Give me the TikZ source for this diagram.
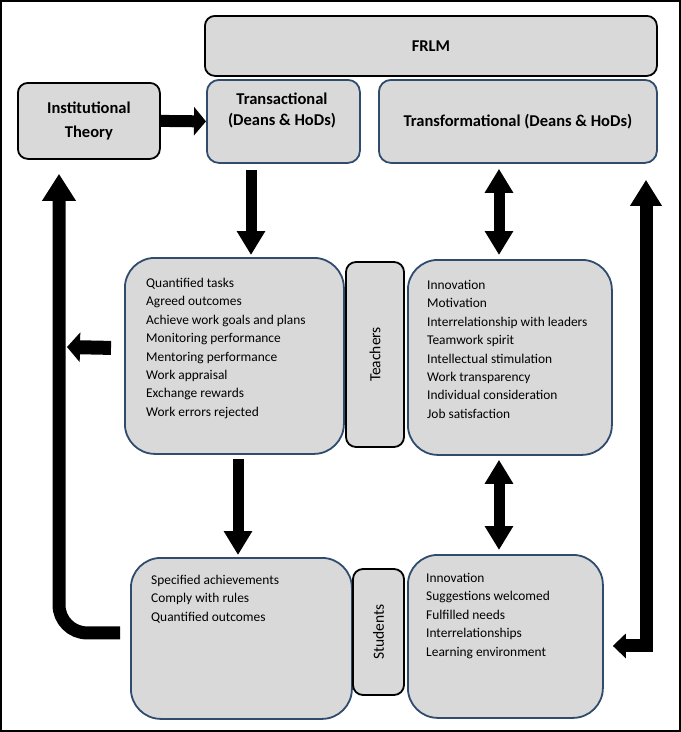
\documentclass[tikz,border=0pt]{standalone}
\usepackage{fontspec}
\setmainfont{Carlito}
\usetikzlibrary{arrows.meta,calc}
\definecolor{boxgray}{HTML}{D9D9D9}
\definecolor{boxblue}{HTML}{2F4B6E}
\begin{document}
\begin{tikzpicture}[x=1pt,y=-1pt,
  kbox/.style={draw=black, fill=boxgray, line width=1.8pt, rounded corners=10pt, inner sep=0pt, anchor=north west},
  bbox/.style={draw=boxblue, fill=boxgray, line width=1.8pt, rounded corners=12pt, inner sep=0pt, anchor=north west},
  head/.style={font=\bfseries\fontsize{16.5}{21}\selectfont, align=center, inner sep=0pt},
  items/.style={font=\fontsize{13.4}{18.4}\selectfont, align=left, inner sep=0pt, anchor=north west},
  vlab/.style={draw=black, fill=boxgray, line width=1.8pt, rounded corners=10pt, inner sep=0pt, rotate=90, font=\fontsize{15.5}{18}\selectfont},
  blk/.style={line width=11pt, -{Triangle[width=27pt,length=24pt]}},
  dblk/.style={line width=11pt, {Triangle[width=27pt,length=24pt]}-{Triangle[width=27pt,length=24pt]}}
]
\useasboundingbox (0,0) rectangle (681,732);
\draw[line width=2pt] (1,1) rectangle (680,731);

% top boxes
\node[kbox, minimum width=452pt, minimum height=60pt] (frlm) at (204,15) {};
\node[head] (frlmt) at (frlm.center) {FRLM};
\node[kbox, minimum width=142pt, minimum height=76pt] (inst) at (17,82) {};
\node[head, font=\bfseries\fontsize{16.5}{23.5}\selectfont] (instt) at (inst.center) {Institutional\\Theory};
\node[bbox, minimum width=153pt, minimum height=83pt] (trans) at (206,79) {};
\node[head] (transt) at (282,110) {Transactional\\(Deans \& HoDs)};
\node[bbox, minimum width=278pt, minimum height=83pt] (tf) at (378,79) {};
\node[head] (tft) at (tf.center) {Transformational (Deans \& HoDs)};

% teachers row
\node[bbox, rounded corners=30pt, minimum width=219pt, minimum height=196pt] (tl) at (124,257) {};
\node[vlab, minimum width=185pt, minimum height=58pt] (tlab) at (375,354.5) {Teachers};
\node[bbox, rounded corners=30pt, minimum width=204pt, minimum height=195pt] (tr) at (407,259) {};
\node[items] (tlt) at (146,278) {Quantified tasks\\Agreed outcomes\\Achieve work goals and plans\\Monitoring performance\\Mentoring performance\\Work appraisal\\Exchange rewards\\Work errors rejected};
\node[items] (trt) at (427,280) {Innovation\\Motivation\\Interrelationship with leaders\\Teamwork spirit\\Intellectual stimulation\\Work transparency\\Individual consideration\\Job satisfaction};

% students row
\node[bbox, rounded corners=30pt, minimum width=221pt, minimum height=161pt] (sl) at (130,557) {};
\node[vlab, minimum width=126pt, minimum height=51pt] (slab) at (378.5,632) {Students};
\node[bbox, rounded corners=30pt, minimum width=195pt, minimum height=163pt] (sr) at (407,554) {};
\node[items] (slt) at (151,575) {Specified achievements\\Comply with rules\\Quantified outcomes};
\node[items] (srt) at (426,573) {Innovation\\Suggestions welcomed\\Fulfilled needs\\Interrelationships\\Learning environment};

% coordinates
\coordinate (lx) at (59,0);
\coordinate (rx) at (646,0);
\coordinate (ax) at (251,0);
\coordinate (bx) at (238,0);
\coordinate (dx) at (499,0);
\coordinate (sa) at (67,347);

% arrows
\draw[line width=12pt, -{Triangle[width=28pt,length=12pt]}] (inst.east) -- (trans.west);
\draw[blk] ($(ax |- trans.south)+(0,6)$) -- ($(ax |- tl.north)+(0,-2)$);
\draw[dblk] ($(dx |- tf.south)+(0,5)$) -- ($(dx |- tr.north)+(0,-4)$);
\draw[blk] ($(bx |- tl.south)+(0,4)$) -- ($(bx |- sl.north)+(0,-2)$);
\draw[dblk] ($(dx |- tr.south)+(0,4)$) -- ($(dx |- sr.north)+(0,-4)$);
\draw[line width=14pt, -{Triangle[width=29pt,length=13pt]}] ([xshift=-13pt,yshift=8pt]tl.west) -- (sa);
\draw[line width=13pt, rounded corners=28pt, -{Triangle[width=32pt,length=27pt]}] ([xshift=-10pt,yshift=5.5pt]sl.west) -| ($(lx |- inst.south)+(0,14)$);
\draw[line width=13pt, {Triangle[width=30pt,length=26pt]}-{Triangle[width=24pt,length=13pt]}] ($(rx |- tf.south)+(0,16)$) |- ($(sr.east)+(9,9.5)$);
\end{tikzpicture}
\end{document}
